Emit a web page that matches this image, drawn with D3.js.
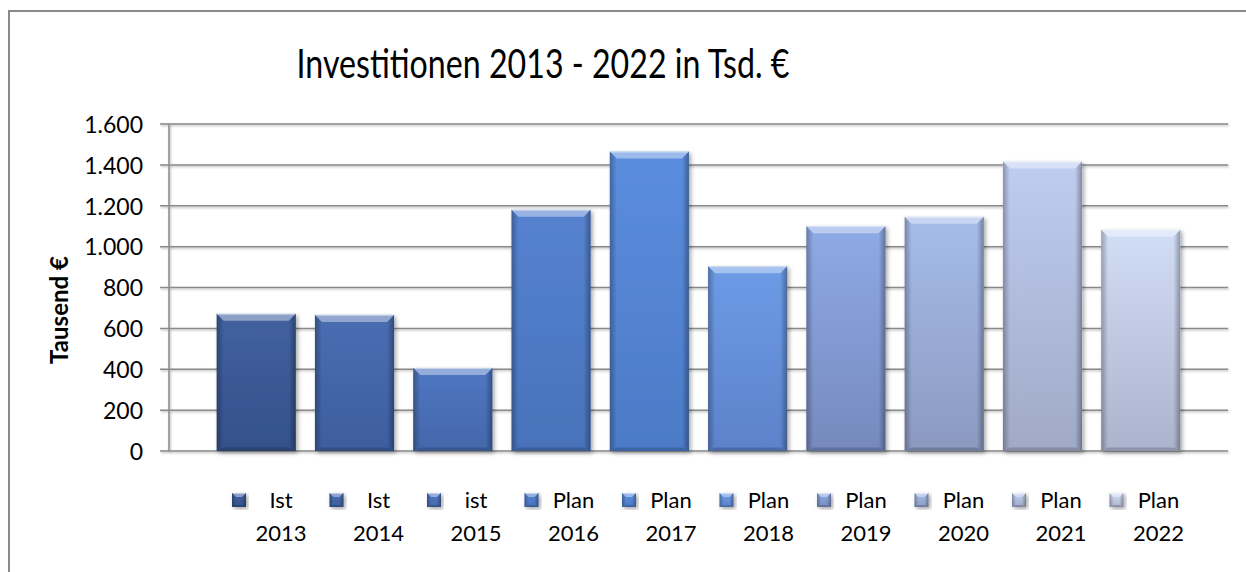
<!DOCTYPE html>
<html>
<head>
<meta charset="utf-8">
<script src="https://cdn.jsdelivr.net/npm/d3@7"></script>
<style>
  html, body { margin: 0; padding: 0; background: #fff; }
  svg { display: block; }
  text { font-family: Lato, "Open Sans", sans-serif; fill: #000; }
</style>
</head>
<body>
<svg id="chart" width="1246" height="572"></svg>
<script>
// ---- data ----
const years = ["2013", "2014", "2015", "2016", "2017", "2018", "2019", "2020", "2021", "2022"];
const kinds = ["Ist", "Ist", "ist", "Plan", "Plan", "Plan", "Plan", "Plan", "Plan", "Plan"];
const values = [671, 666, 406, 1180, 1465, 904, 1100, 1146, 1416, 1083];
const yTicks = [0, 200, 400, 600, 800, 1000, 1200, 1400, 1600];
const titleText = "Investitionen 2013 - 2022 in Tsd. €";
const yAxisTitle = "Tausend €";
// styles (top / bottom colours per series)
const topColors = ["#41619f", "#4a6db2", "#4f77c2", "#5582d0", "#5b8ddf", "#6d9be6", "#8eaae6", "#a6bcea", "#bfcdf0", "#d2ddf6"];
const botColors = ["#34518a", "#3d5e9e", "#4467ab", "#4872ba", "#4c7ac6", "#5c82ca", "#7689be", "#8b99c0", "#a0a9c7", "#acb4cd"];

const svg = d3.select("#chart");
const W = 1246, H = 572;
const plot = { left: 169, right: 1228, top: 124, bottom: 451 };

const locale = d3.formatLocale({ decimal: ",", thousands: ".", grouping: [3], currency: ["", "€"] });
const fmt = locale.format(",");

const x = d3.scaleBand().domain(years).range([plot.left, plot.right]).paddingInner(0.195).paddingOuter(0.485);
const y = d3.scaleLinear().domain([0, 1600]).range([plot.bottom, plot.top]);

const defs = svg.append("defs");
const f = defs.append("filter").attr("id", "shadow").attr("x", "-20%").attr("y", "-20%").attr("width", "140%").attr("height", "140%");
f.append("feDropShadow").attr("dx", 2).attr("dy", 2).attr("stdDeviation", 2).attr("flood-color", "#000").attr("flood-opacity", 0.35);
const gf = defs.append("filter").attr("id", "gshadow").attr("filterUnits", "userSpaceOnUse")
  .attr("x", 0).attr("y", 0).attr("width", W).attr("height", H);
gf.append("feDropShadow").attr("dx", 1).attr("dy", 1.2).attr("stdDeviation", 0.8).attr("flood-color", "#000").attr("flood-opacity", 0.3);

years.forEach((yr, i) => {
  const g = defs.append("linearGradient").attr("id", "grad" + i).attr("x1", 0).attr("y1", 0).attr("x2", 0).attr("y2", 1);
  g.append("stop").attr("offset", "0%").attr("stop-color", topColors[i]);
  g.append("stop").attr("offset", "100%").attr("stop-color", botColors[i]);
});
const side = defs.append("linearGradient").attr("id", "sideShade").attr("x1", 0).attr("y1", 0).attr("x2", 1).attr("y2", 0);
side.append("stop").attr("offset", "0%").attr("stop-color", "#000").attr("stop-opacity", 0.28);
side.append("stop").attr("offset", "100%").attr("stop-color", "#000").attr("stop-opacity", 0.0);
const sideR = defs.append("linearGradient").attr("id", "sideShadeR").attr("x1", 1).attr("y1", 0).attr("x2", 0).attr("y2", 0);
sideR.append("stop").attr("offset", "0%").attr("stop-color", "#000").attr("stop-opacity", 0.32);
sideR.append("stop").attr("offset", "100%").attr("stop-color", "#000").attr("stop-opacity", 0.0);

// background + border
svg.append("rect").attr("x", 0).attr("y", 0).attr("width", W).attr("height", H).attr("fill", "#fff");
svg.append("rect").attr("x", 9).attr("y", 11).attr("width", W + 20).attr("height", H + 20)
  .attr("fill", "none").attr("stroke", "#8a8a8a").attr("stroke-width", 2);

// title
svg.append("text").attr("x", 543).attr("y", 78).attr("text-anchor", "middle")
  .attr("textLength", 493).attr("lengthAdjust", "spacingAndGlyphs")
  .style("font-size", "40px").text(titleText);

// gridlines
const grid = svg.append("g").attr("filter", "url(#gshadow)");
grid.selectAll("line").data(yTicks).join("line")
  .attr("x1", plot.left - 9).attr("x2", plot.right)
  .attr("y1", d => y(d)).attr("y2", d => y(d))
  .attr("stroke", "#8a8a8a").attr("stroke-width", 1.5);
// y axis line
grid.append("line").attr("x1", plot.left).attr("x2", plot.left).attr("y1", plot.top).attr("y2", plot.bottom)
  .attr("stroke", "#8a8a8a").attr("stroke-width", 1.5);

// y tick labels via axis
const yAxis = d3.axisLeft(y).tickValues(yTicks).tickFormat(fmt).tickSize(0).tickPadding(0);
const ya = svg.append("g").attr("transform", `translate(${143},0)`).call(yAxis);
ya.select(".domain").remove();
ya.selectAll("text").style("font-size", "23px").style("font-family", "Lato, sans-serif").attr("fill", "#000").attr("dy", "0.36em");

// y axis title
svg.append("text").attr("transform", `translate(68,310) rotate(-90)`).attr("text-anchor", "middle")
  .style("font-size", "24px").style("font-weight", "bold").text(yAxisTitle);

// bars
function bevelBar(g, i, bx, by, bw, bh, b) {
  g.append("rect").attr("x", bx).attr("y", by).attr("width", bw).attr("height", bh)
    .attr("fill", `url(#grad${i})`).attr("filter", "url(#shadow)");
  // left side
  g.append("path").attr("d", `M${bx},${by}L${bx + b},${by + b}L${bx + b},${by + bh - b * 0.5}L${bx},${by + bh}Z`)
    .attr("fill", "url(#sideShade)");
  // right side
  g.append("path").attr("d", `M${bx + bw},${by}L${bx + bw - b},${by + b}L${bx + bw - b},${by + bh - b * 0.5}L${bx + bw},${by + bh}Z`)
    .attr("fill", "url(#sideShadeR)");
  // bottom
  g.append("path").attr("d", `M${bx},${by + bh}L${bx + b},${by + bh - b * 0.5}L${bx + bw - b},${by + bh - b * 0.5}L${bx + bw},${by + bh}Z`)
    .attr("fill", "#000").attr("fill-opacity", 0.18);
  // top bevel
  g.append("path").attr("d", `M${bx},${by}L${bx + bw},${by}L${bx + bw - b},${by + b}L${bx + b},${by + b}Z`)
    .attr("fill", "#fff").attr("fill-opacity", 0.4);
  g.append("line").attr("x1", bx + 1).attr("x2", bx + bw - 1).attr("y1", by + 0.5).attr("y2", by + 0.5)
    .attr("stroke", "#fff").attr("stroke-opacity", 0.45);
}

const bars = svg.append("g");
values.forEach((v, i) => {
  const g = bars.append("g");
  const bx = x(years[i]), bw = x.bandwidth();
  const by = y(v), bh = y(0) - y(v);
  bevelBar(g, i, bx, by, bw, bh, 7);
});

// legend
const legend = svg.append("g");
const legendX = d3.scaleBand().domain(years).range([232, 232 + 97.5 * 10]);
years.forEach((yr, i) => {
  const lx = legendX(yr);
  const g = legend.append("g");
  bevelBar(g, i, lx, 493, 14, 14, 4);
  const t = g.append("text").attr("text-anchor", "middle").style("font-size", "22px");
  t.append("tspan").attr("x", lx + 49).attr("y", 508).text(kinds[i]);
  t.append("tspan").attr("x", lx + 49).attr("y", 541).text(yr);
});
</script>
</body>
</html>
